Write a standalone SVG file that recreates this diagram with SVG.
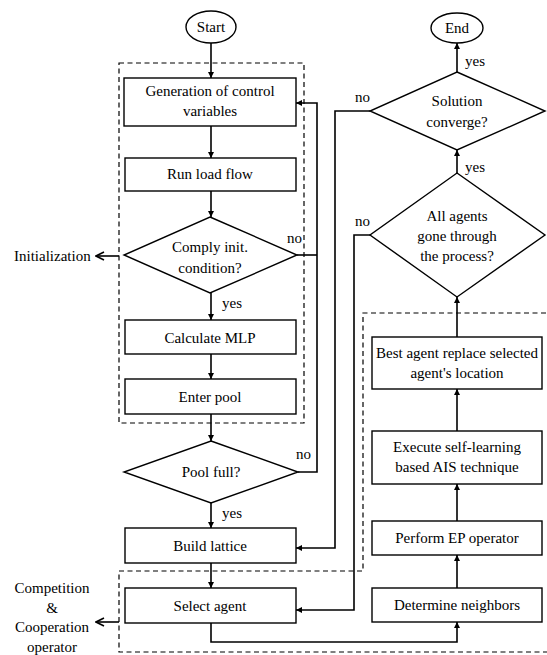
<svg xmlns="http://www.w3.org/2000/svg" width="547" height="655" viewBox="0 0 547 655">
<defs>
<marker id="ah" viewBox="0 0 10 10" refX="10" refY="5" markerWidth="6" markerHeight="6" markerUnits="userSpaceOnUse" orient="auto">
<path d="M0,0 L10,5 L0,10 z" fill="#000"/>
</marker>
<marker id="oh" viewBox="0 0 10 10" refX="9" refY="5" markerWidth="10" markerHeight="10" markerUnits="userSpaceOnUse" orient="auto">
<path d="M1,1 L9,5 L1,9" fill="none" stroke="#000" stroke-width="1.6"/>
</marker>
</defs>
<rect width="547" height="655" fill="#fff"/>
<g id="regions" fill="none" stroke="#000" stroke-width="1.2" stroke-dasharray="5,3.5">
<rect x="119" y="63" width="185" height="360"/>
<path d="M119,571 L363,571 L363,313 L548,313 M548,652 L119,652 L119,571"/>
</g>
<g id="connectors" fill="none" stroke="#000" stroke-width="1.6">
<line x1="211" y1="43" x2="211" y2="78" marker-end="url(#ah)"/>
<line x1="211" y1="126" x2="211" y2="158" marker-end="url(#ah)"/>
<line x1="211" y1="191" x2="211" y2="217" marker-end="url(#ah)"/>
<line x1="211" y1="293" x2="211" y2="320" marker-end="url(#ah)"/>
<line x1="211" y1="354" x2="211" y2="379" marker-end="url(#ah)"/>
<line x1="211" y1="414" x2="211" y2="441" marker-end="url(#ah)"/>
<line x1="211" y1="503" x2="211" y2="528" marker-end="url(#ah)"/>
<line x1="211" y1="563" x2="211" y2="588" marker-end="url(#ah)"/>
<polyline points="297,255 317,255"/>
<polyline points="298,472 317,472 317,103 296,103" marker-end="url(#ah)"/>
<polyline points="211,623 211,642 457,642 457,622" marker-end="url(#ah)"/>
<line x1="457" y1="588" x2="457" y2="555" marker-end="url(#ah)"/>
<line x1="457" y1="521" x2="457" y2="484" marker-end="url(#ah)"/>
<line x1="457" y1="431" x2="457" y2="389" marker-end="url(#ah)"/>
<line x1="457" y1="337" x2="457" y2="297" marker-end="url(#ah)"/>
<line x1="457" y1="173" x2="457" y2="150" marker-end="url(#ah)"/>
<line x1="457" y1="72" x2="457" y2="43" marker-end="url(#ah)"/>
<polyline points="370,111 335,111 335,548 296,548" marker-end="url(#ah)"/>
<polyline points="370,235 354,235 354,610 296,610" marker-end="url(#ah)"/>
<line x1="119" y1="256" x2="96" y2="256" marker-end="url(#oh)"/>
<line x1="119" y1="622" x2="96" y2="622" marker-end="url(#oh)"/>
</g>
<g id="labels">
<text font-family="Liberation Serif" font-size="15" x="287" y="243">no</text>
<text font-family="Liberation Serif" font-size="15" x="222" y="308">yes</text>
<text font-family="Liberation Serif" font-size="15" x="296" y="459">no</text>
<text font-family="Liberation Serif" font-size="15" x="222" y="518">yes</text>
<text font-family="Liberation Serif" font-size="15" x="465" y="66">yes</text>
<text font-family="Liberation Serif" font-size="15" x="355" y="102">no</text>
<text font-family="Liberation Serif" font-size="15" x="465" y="172">yes</text>
<text font-family="Liberation Serif" font-size="15" x="355" y="226">no</text>
<text font-family="Liberation Serif" font-size="15" x="14" y="261">Initialization</text>
<text font-family="Liberation Serif" font-size="15" text-anchor="middle" x="52" y="593">Competition</text>
<text font-family="Liberation Serif" font-size="15" text-anchor="middle" x="52" y="613">&amp;</text>
<text font-family="Liberation Serif" font-size="15" text-anchor="middle" x="52" y="632">Cooperation</text>
<text font-family="Liberation Serif" font-size="15" text-anchor="middle" x="52" y="652">operator</text>
</g>
<g id="start">
<ellipse cx="211" cy="27" rx="25" ry="16" fill="#fff" stroke="#000" stroke-width="1.4"/>
<text font-family="Liberation Serif" font-size="15" text-anchor="middle" x="211" y="32">Start</text>
</g>
<g id="gen">
<rect x="124" y="78" width="172" height="48" fill="#fff" stroke="#000" stroke-width="1.4"/>
<text font-family="Liberation Serif" font-size="15" text-anchor="middle" x="210" y="96">Generation of control</text>
<text font-family="Liberation Serif" font-size="15" text-anchor="middle" x="210" y="116">variables</text>
</g>
<g id="runload">
<rect x="125" y="158" width="171" height="33" fill="#fff" stroke="#000" stroke-width="1.4"/>
<text font-family="Liberation Serif" font-size="15" text-anchor="middle" x="210" y="179">Run load flow</text>
</g>
<g id="comply">
<polygon points="210,217 297,255 210,293 124,255" fill="#fff" stroke="#000" stroke-width="1.4"/>
<text font-family="Liberation Serif" font-size="15" text-anchor="middle" x="210" y="252">Comply init.</text>
<text font-family="Liberation Serif" font-size="15" text-anchor="middle" x="210" y="273">condition?</text>
</g>
<g id="mlp">
<rect x="125" y="320" width="171" height="34" fill="#fff" stroke="#000" stroke-width="1.4"/>
<text font-family="Liberation Serif" font-size="15" text-anchor="middle" x="210" y="343">Calculate MLP</text>
</g>
<g id="pool">
<rect x="125" y="379" width="171" height="35" fill="#fff" stroke="#000" stroke-width="1.4"/>
<text font-family="Liberation Serif" font-size="15" text-anchor="middle" x="210" y="402">Enter pool</text>
</g>
<g id="poolfull">
<polygon points="211,441 298,472 211,503 124,472" fill="#fff" stroke="#000" stroke-width="1.4"/>
<text font-family="Liberation Serif" font-size="15" text-anchor="middle" x="211" y="477">Pool full?</text>
</g>
<g id="lattice">
<rect x="125" y="528" width="171" height="35" fill="#fff" stroke="#000" stroke-width="1.4"/>
<text font-family="Liberation Serif" font-size="15" text-anchor="middle" x="210" y="551">Build lattice</text>
</g>
<g id="select">
<rect x="125" y="588" width="171" height="35" fill="#fff" stroke="#000" stroke-width="1.4"/>
<text font-family="Liberation Serif" font-size="15" text-anchor="middle" x="210" y="611">Select agent</text>
</g>
<g id="neighbors">
<rect x="372" y="588" width="170" height="34" fill="#fff" stroke="#000" stroke-width="1.4"/>
<text font-family="Liberation Serif" font-size="15" text-anchor="middle" x="457" y="610">Determine neighbors</text>
</g>
<g id="ep">
<rect x="372" y="521" width="170" height="34" fill="#fff" stroke="#000" stroke-width="1.4"/>
<text font-family="Liberation Serif" font-size="15" text-anchor="middle" x="457" y="543">Perform EP operator</text>
</g>
<g id="ais">
<rect x="372" y="431" width="170" height="53" fill="#fff" stroke="#000" stroke-width="1.4"/>
<text font-family="Liberation Serif" font-size="15" text-anchor="middle" x="457" y="452">Execute self-learning</text>
<text font-family="Liberation Serif" font-size="15" text-anchor="middle" x="457" y="472">based AIS technique</text>
</g>
<g id="best">
<rect x="372" y="337" width="170" height="52" fill="#fff" stroke="#000" stroke-width="1.4"/>
<text font-family="Liberation Serif" font-size="15" text-anchor="middle" x="457" y="358">Best agent replace selected</text>
<text font-family="Liberation Serif" font-size="15" text-anchor="middle" x="457" y="378">agent's location</text>
</g>
<g id="allagents">
<polygon points="457,173 545,235 457,297 370,235" fill="#fff" stroke="#000" stroke-width="1.4"/>
<text font-family="Liberation Serif" font-size="15" text-anchor="middle" x="457" y="221">All agents</text>
<text font-family="Liberation Serif" font-size="15" text-anchor="middle" x="457" y="241">gone through</text>
<text font-family="Liberation Serif" font-size="15" text-anchor="middle" x="457" y="261">the process?</text>
</g>
<g id="converge">
<polygon points="457,72 545,111 457,150 370,111" fill="#fff" stroke="#000" stroke-width="1.4"/>
<text font-family="Liberation Serif" font-size="15" text-anchor="middle" x="457" y="106">Solution</text>
<text font-family="Liberation Serif" font-size="15" text-anchor="middle" x="457" y="127">converge?</text>
</g>
<g id="end">
<ellipse cx="457" cy="28" rx="26" ry="15" fill="#fff" stroke="#000" stroke-width="1.4"/>
<text font-family="Liberation Serif" font-size="15" text-anchor="middle" x="457" y="33">End</text>
</g>
</svg>
